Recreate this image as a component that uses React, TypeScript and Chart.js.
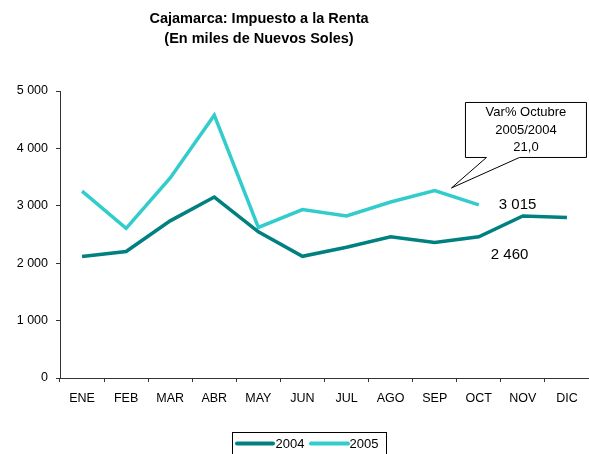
import React, { useEffect, useRef } from "react";
import { Chart, registerables } from "chart.js";

Chart.register(...registerables);

const months = ["ENE", "FEB", "MAR", "ABR", "MAY", "JUN", "JUL", "AGO", "SEP", "OCT", "NOV", "DIC"];
const values2004 = [2117, 2203, 2738, 3152, 2547, 2120, 2279, 2462, 2359, 2460, 2824, 2797];
const values2005 = [3255, 2607, 3486, 4578, 2624, 2934, 2824, 3066, 3267, 3015, null, null];
const seriesNames = ["2004", "2005"];
const seriesColors = ["#008080", "#33CCCC"];
const titleLines = ["Cajamarca: Impuesto a la Renta", "(En miles de Nuevos Soles)"];
const calloutLines = ["Var% Octubre", "2005/2004", "21,0"];
const yMin = 0;
const yMax = 5000;
const yStep = 1000;

const FONT = "'Liberation Sans', Arial, Helvetica, sans-serif";
const fmt = (v: number) => String(v).replace(/\B(?=(\d{3})+(?!\d))/g, " ");

const overlayPlugin = {
  id: "overlay",
  afterDraw(chart: any) {
    const ctx = chart.ctx as CanvasRenderingContext2D;
    const m04 = chart.getDatasetMeta(0).data;
    const m05 = chart.getDatasetMeta(1).data;
    const i = 9;
    ctx.save();

    // title
    ctx.fillStyle = "#000";
    ctx.font = `bold 14.5px ${FONT}`;
    ctx.textAlign = "center";
    ctx.textBaseline = "middle";
    titleLines.forEach((t, k) => ctx.fillText(t, 259, 19 + k * 20));

    // value labels
    ctx.font = `15px ${FONT}`;
    ctx.textAlign = "left";
    ctx.fillText(fmt(values2005[i] as number), m05[i].x + 20, m05[i].y);
    ctx.fillText(fmt(values2004[i]), m04[i].x + 12, m04[i].y + 18);

    // callout
    const a = m05[i - 1];
    const b = m05[i];
    const f = 0.38;
    const tipX = a.x + (b.x - a.x) * f;
    const tipY = a.y + (b.y - a.y) * f - 8;
    const bx = tipX + 14;
    const by = tipY - 85.5;
    const bw = 121;
    const bh = 55;
    ctx.beginPath();
    ctx.moveTo(bx, by);
    ctx.lineTo(bx + bw, by);
    ctx.lineTo(bx + bw, by + bh);
    ctx.lineTo(bx + 54, by + bh);
    ctx.lineTo(tipX, tipY);
    ctx.lineTo(bx + 21, by + bh);
    ctx.lineTo(bx, by + bh);
    ctx.closePath();
    ctx.fillStyle = "#fff";
    ctx.fill();
    ctx.strokeStyle = "#000";
    ctx.lineWidth = 1;
    ctx.stroke();
    ctx.fillStyle = "#000";
    ctx.font = `13px ${FONT}`;
    ctx.textAlign = "center";
    calloutLines.forEach((t, k) => ctx.fillText(t, bx + bw / 2, by + 10 + k * 17.5));

    // legend
    const lx = 232.5;
    const ly = 432.5;
    ctx.strokeStyle = "#000";
    ctx.lineWidth = 1;
    ctx.strokeRect(lx, ly, 154, 40);
    ctx.font = `13px ${FONT}`;
    ctx.textAlign = "left";
    ctx.textBaseline = "middle";
    const items = [
      { x0: 237, x1: 273, tx: 275.5 },
      { x0: 311, x1: 348, tx: 349.5 },
    ];
    items.forEach((it, k) => {
      ctx.beginPath();
      ctx.moveTo(it.x0, 443.5);
      ctx.lineTo(it.x1, 443.5);
      ctx.strokeStyle = seriesColors[k];
      ctx.lineWidth = 4;
      ctx.lineCap = "round";
      ctx.stroke();
      ctx.fillStyle = "#000";
      ctx.fillText(seriesNames[k], it.tx, 444);
    });
    ctx.restore();
  },
};

export default function App() {
  const ref = useRef<HTMLCanvasElement | null>(null);
  useEffect(() => {
    if (!ref.current) return;
    const chart = new Chart(ref.current, {
      type: "line",
      data: {
        labels: months,
        datasets: [
          {
            label: seriesNames[0],
            data: values2004,
            borderColor: seriesColors[0],
            backgroundColor: seriesColors[0],
            borderWidth: 3.5,
            pointRadius: 0,
            tension: 0,
          },
          {
            label: seriesNames[1],
            data: values2005,
            borderColor: seriesColors[1],
            backgroundColor: seriesColors[1],
            borderWidth: 3.5,
            pointRadius: 0,
            tension: 0,
          },
        ],
      },
      options: {
        responsive: false,
        animation: false,
        layout: { padding: { left: 0, right: 0, top: 91, bottom: 0 } },
        plugins: {
          legend: { display: false },
          tooltip: { enabled: false },
          title: { display: false },
        },
        scales: {
          x: {
            type: "category",
            offset: true,
            grid: {
              offset: true,
              drawOnChartArea: false,
              drawTicks: true,
              tickLength: 4,
              color: "#333",
            },
            border: { display: true, color: "#333", width: 1 },
            ticks: {
              color: "#000",
              font: { family: FONT, size: 12.5 },
              padding: 9,
              maxRotation: 0,
              autoSkip: false,
            },
            afterFit: (s: any) => {
              s.height = 76;
            },
          },
          y: {
            min: yMin,
            max: yMax,
            grid: { drawOnChartArea: false, drawTicks: true, tickLength: 4, color: "#333" },
            border: { display: true, color: "#333", width: 1 },
            ticks: {
              stepSize: yStep,
              color: "#000",
              font: { family: FONT, size: 12.5 },
              padding: 8,
              callback: (v: any) => fmt(Number(v)),
            },
            afterFit: (s: any) => {
              s.width = 60;
            },
          },
        },
      },
      plugins: [overlayPlugin],
    });
    return () => chart.destroy();
  }, []);
  return (
    <div style={{ position: "fixed", left: 0, top: 0, width: 589, height: 454, background: "#fff" }}>
      <canvas ref={ref} width={589} height={454} style={{ display: "block" }} />
    </div>
  );
}
